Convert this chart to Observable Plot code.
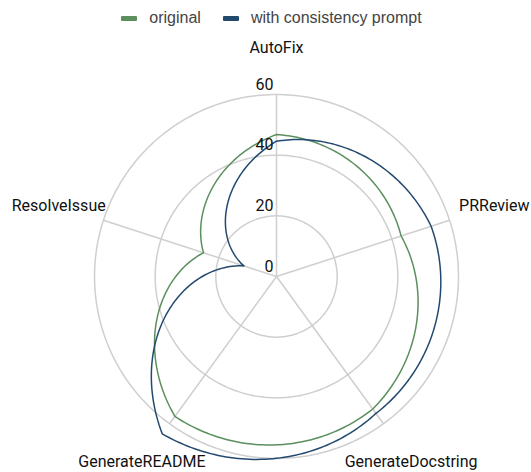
<!DOCTYPE html>
<html><head><meta charset="utf-8">
<script src="https://cdn.jsdelivr.net/npm/d3@7"></script>
<script src="https://cdn.jsdelivr.net/npm/@observablehq/plot@0.6"></script>
<style>
body{margin:0;background:#fff;font-family:Roboto,sans-serif;}
#legend{height:36px;display:flex;align-items:center;justify-content:center;padding-left:12px;box-sizing:border-box;font-family:"Liberation Sans",Arial,sans-serif;font-size:16px;color:#444;}
#legend .item{display:flex;align-items:center;margin:0 11px;}
#legend .sw{width:16px;height:5px;border-radius:1px;margin-right:12px;}
</style></head><body><div id="legend"></div><div id="chart"></div>
<script>
const categories = ["AutoFix", "PRReview", "GenerateDocstring", "GenerateREADME", "ResolveIssue"];
const seriesNames = ["original", "with consistency prompt"];
const originalValues = [46.8, 43.2, 54.0, 57.0, 25.3];
const consistencyValues = [44.6, 53.6, 55.8, 64.1, 11.3];
const tickValues = [0, 20, 40, 60];
const gridValues = [20, 40, 60];
const colors = ["#5b8f5e", "#234a6e"];

const W = 531, H = 436, cx = 276, cy = 240, k = 3.033;
const rMax = 60, labelR = 75.5;

const seriesValues = [originalValues, consistencyValues];
const angle = (c) => categories.indexOf(c) * 2 * Math.PI / categories.length;
const px = (c, v) => v * Math.sin(angle(c));
const py = (c, v) => v * Math.cos(angle(c));

const rows = seriesNames.flatMap((s, j) => categories.map((c, i) => ({series: s, category: c, value: seriesValues[j][i]})));
const gridRows = gridValues.flatMap((v) => categories.map((c) => ({ring: v, category: c, value: v})));

function spiralClosed(cx0, cy0, steps = 60) {
  return (context) => {
    let pts = [];
    return {
      areaStart() {}, areaEnd() {},
      lineStart() { pts = []; },
      point(x, y) { pts.push([+x, +y]); },
      lineEnd() {
        const n = pts.length;
        if (!n) return;
        const pol = pts.map(([x, y]) => [Math.atan2(y - cy0, x - cx0), Math.hypot(x - cx0, y - cy0)]);
        context.moveTo(pts[0][0], pts[0][1]);
        for (let i = 0; i < n; i++) {
          const [a0, r0] = pol[i], [a1, r1] = pol[(i + 1) % n];
          let da = a1 - a0;
          while (da > Math.PI) da -= 2 * Math.PI;
          while (da <= -Math.PI) da += 2 * Math.PI;
          for (let s = 1; s <= steps; s++) {
            const t = s / steps, a = a0 + da * t, r = r0 + (r1 - r0) * t;
            context.lineTo(cx0 + r * Math.cos(a), cy0 + r * Math.sin(a));
          }
        }
        context.closePath();
      }
    };
  };
}
const curve = spiralClosed(cx, cy);

// legend
const legend = document.getElementById("legend");
seriesNames.forEach((s, j) => {
  const it = document.createElement("div"); it.className = "item";
  const sw = document.createElement("div"); sw.className = "sw"; sw.style.background = colors[j];
  const tx = document.createElement("span"); tx.textContent = s;
  it.append(sw, tx); legend.append(it);
});

const chart = Plot.plot({
  width: W, height: H,
  margin: 0,
  style: {fontFamily: "Roboto, sans-serif", fontSize: "16px", overflow: "visible"},
  x: {domain: [-cx / k, (W - cx) / k], range: [0, W], axis: null},
  y: {domain: [-(H - cy) / k, cy / k], range: [H, 0], axis: null},
  color: {domain: seriesNames, range: colors},
  marks: [
    Plot.line(gridRows, {x: (d) => px(d.category, d.value), y: (d) => py(d.category, d.value), z: "ring", stroke: "#cfcfcf", strokeWidth: 1.5, curve}),
    Plot.link(categories, {x1: 0, y1: 0, x2: (c) => px(c, rMax), y2: (c) => py(c, rMax), stroke: "#cfcfcf", strokeWidth: 1.5}),
    Plot.line(rows, {x: (d) => px(d.category, d.value), y: (d) => py(d.category, d.value), stroke: "series", strokeWidth: 1.5, curve}),
    Plot.text(tickValues, {x: 0, y: (d) => d, text: (d) => String(d), textAnchor: "end", dx: -3, dy: -10, fill: "#111", fontSize: 16}),
    Plot.text(categories, {x: (c) => px(c, labelR), y: (c) => py(c, labelR), text: (c) => c, fill: "#111", fontSize: 16})
  ]
});
document.getElementById("chart").append(chart);
</script>
</body></html>
